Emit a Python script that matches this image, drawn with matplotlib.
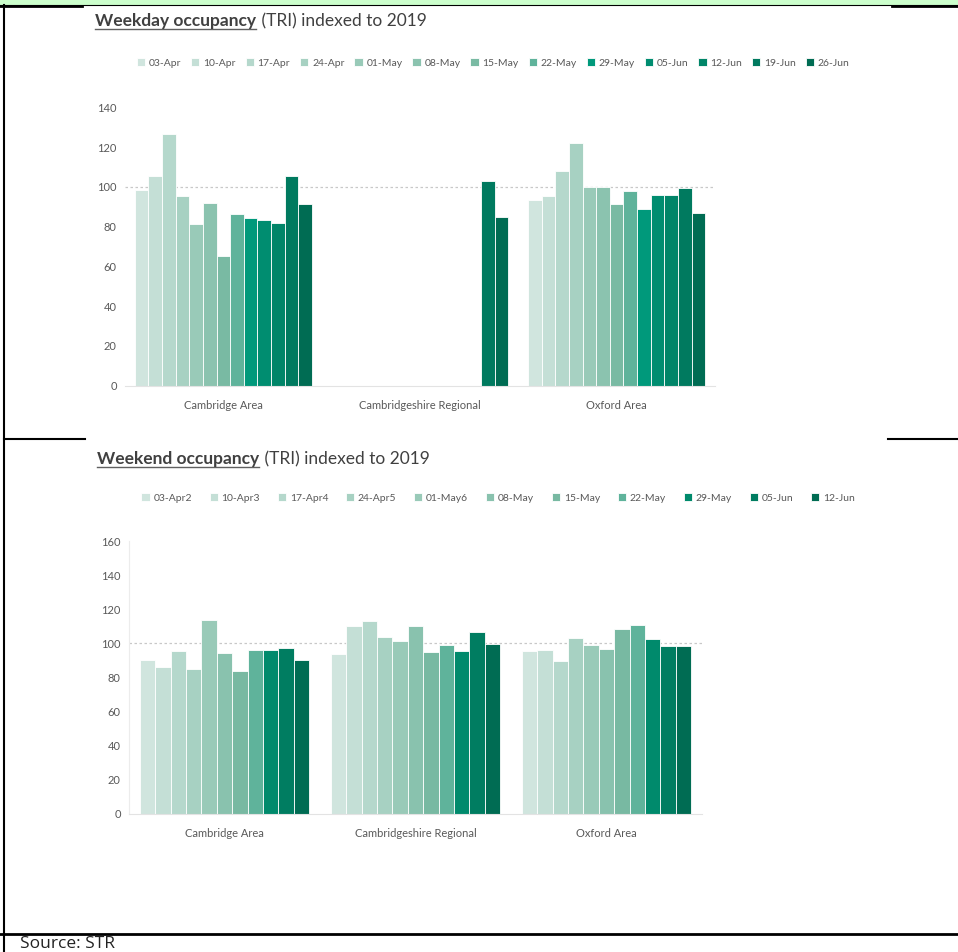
import matplotlib
matplotlib.use("Agg")
import matplotlib.pyplot as plt
import numpy as np
from matplotlib.lines import Line2D
from matplotlib.patches import Rectangle

plt.rcParams['font.family'] = ['Lato', 'DejaVu Sans']

# ---- data ----
areas = ['Cambridge Area', 'Cambridgeshire Regional', 'Oxford Area']

weekday_weeks = ['03-Apr', '10-Apr', '17-Apr', '24-Apr', '01-May', '08-May', '15-May',
                 '22-May', '29-May', '05-Jun', '12-Jun', '19-Jun', '26-Jun']
weekday_cambridge = [98.5, 105.5, 126.5, 95.5, 81.5, 92, 65, 86.5, 84.5, 83.5, 82, 105.3, 91.5]
weekday_regional = [np.nan] * 11 + [103, 84.7]
weekday_oxford = [93.4, 95.6, 107.8, 121.9, 100.1, 100.1, 91.5, 98.1, 88.7, 95.7, 95.7, 99.4, 86.7]

weekend_weeks = ['03-Apr2', '10-Apr3', '17-Apr4', '24-Apr5', '01-May6', '08-May', '15-May',
                 '22-May', '29-May', '05-Jun', '12-Jun']
weekend_cambridge = [90.2, 85.9, 95.3, 85.1, 113.6, 94.1, 83.5, 96, 96, 97.2, 90.2]
weekend_regional = [93.5, 110.3, 113.3, 103.5, 101.1, 109.9, 95.1, 98.8, 95.3, 106.6, 99.4]
weekend_oxford = [95.6, 96.2, 89.8, 102.9, 98.8, 96.4, 108.4, 110.9, 102.5, 98.6, 98.6]

weekday_colors = ['#d0e5de', '#c4dfd6', '#b5d8cc', '#a7d1c2', '#99cab8', '#8bc3af', '#79baa3',
                  '#5fb39b', '#00997b', '#008d70', '#008568', '#007a5f', '#006c53']
weekend_colors = ['#d0e5de', '#c4dfd6', '#b5d8cc', '#a7d1c2', '#99cab8', '#89c2ae', '#78b9a2',
                  '#5fb39b', '#008a6c', '#007d61', '#006c53']

W, H = 958, 952
fig = plt.figure(figsize=(W / 100, H / 100), dpi=100)
fig.patch.set_facecolor('white')

TXT = '#404040'
TICK = '#595959'


def px(x0, ytop, x1, ybot):
    # pixel box -> figure fraction rect
    return [x0 / W, 1 - ybot / H, (x1 - x0) / W, (ybot - ytop) / H]


def bar_panel(rect, series, weeks, colors, ymax, group, left_spine):
    ax = fig.add_axes(rect)
    n = len(weeks)
    w = group / n
    x = np.arange(len(areas))
    for i in range(n):
        vals = [s[i] for s in series]
        ax.bar(x + (i - (n - 1) / 2) * w, vals, width=w, color=colors[i],
               edgecolor='white', linewidth=0.6, label=weeks[i], zorder=2)
    ax.axhline(100, color='#c8c8c8', lw=0.9, ls=(0, (2, 2)), zorder=1)
    ax.set_xlim(-0.5, len(areas) - 0.5)
    ax.set_ylim(0, ymax)
    ax.set_yticks(np.arange(0, ymax + 1, 20))
    ax.set_xticks(x)
    ax.set_xticklabels(areas)
    ax.tick_params(length=0, labelsize=8, labelcolor=TICK, pad=6)
    ax.tick_params(axis='x', pad=10)
    for s in ['top', 'right']:
        ax.spines[s].set_visible(False)
    ax.spines['bottom'].set_color('#e3e3e3')
    if left_spine:
        ax.spines['left'].set_color('#ececec')
    else:
        ax.spines['left'].set_visible(False)
    return ax


ax1 = bar_panel(px(125, 107.3, 715, 385.7),
                [weekday_cambridge, weekday_regional, weekday_oxford],
                weekday_weeks, weekday_colors, 140, 0.9, False)
ax2 = bar_panel(px(129, 541, 702, 813.7),
                [weekend_cambridge, weekend_regional, weekend_oxford],
                weekend_weeks, weekend_colors, 160, 0.885, True)

fig.legend(*ax1.get_legend_handles_labels(), loc='center', ncol=13,
           bbox_to_anchor=(493 / W, 1 - 63 / H), frameon=False,
           fontsize=7.5, handlelength=0.8, handleheight=0.8,
           handletextpad=0.35, columnspacing=0.95, labelcolor=TICK)
fig.legend(*ax2.get_legend_handles_labels(), loc='center', ncol=11,
           bbox_to_anchor=(498 / W, 1 - 498 / H), frameon=False,
           fontsize=7.5, handlelength=0.8, handleheight=0.8,
           handletextpad=0.35, columnspacing=1.7, labelcolor=TICK)

# titles: bold underlined part + normal part
renderer = fig.canvas.get_renderer()


def title(x, y, bold, rest):
    t = fig.text(x / W, 1 - y / H, bold, fontsize=12.5, fontweight='bold',
                 color=TXT, va='baseline')
    bb = t.get_window_extent(renderer)
    fig.add_artist(Line2D([bb.x0 / W, bb.x1 / W], [(bb.y0 + 0.5) / H] * 2,
                          color='#606060', lw=1.0))
    fig.text(bb.x1 / W + 0.001, 1 - y / H, rest, fontsize=12.5, color=TXT,
             va='baseline')


title(95, 26, 'Weekday occupancy', ' (TRI) indexed to 2019')
title(97, 464, 'Weekend occupancy', ' (TRI) indexed to 2019')

# page frame bits
fig.add_artist(Rectangle((0, 1 - 4.5 / H), 1, 4.5 / H, transform=fig.transFigure,
                         facecolor='#ccffcc', edgecolor='none'))


def hline(x0, x1, y, lw):
    fig.add_artist(Line2D([x0 / W, x1 / W], [1 - y / H] * 2, color='black', lw=lw))


hline(0, W, 4.5, 0.8)
hline(0, 82, 5.5, 2)
hline(892, W, 5.5, 2)
hline(4, 85, 439, 1.5)
hline(888, W, 439, 1.5)
hline(0, W, 934, 2)
fig.add_artist(Line2D([4 / W] * 2, [0, 1 - 5 / H], color='black', lw=1.5))

fig.text(20 / W, 1 - 944 / H, 'Source: STR', fontsize=12.5, color='#222222',
         va='center', family=['Open Sans', 'DejaVu Sans'])

fig.savefig('out.png', dpi=100)
